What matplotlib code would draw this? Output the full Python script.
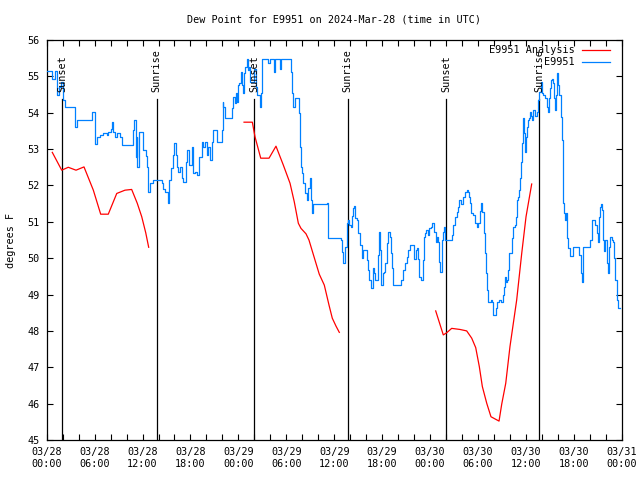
import numpy as np
import matplotlib
matplotlib.use("Agg")
import matplotlib.pyplot as plt
from matplotlib.ticker import MultipleLocator, FixedLocator

# ---- data (hours since 03/28 00:00 UTC, degrees F) ----
obs_hours = [0.08, 0.63, 1.04, 1.33, 1.58, 1.79, 2.08, 2.29, 3.46, 3.54, 3.76, 5.42, 5.63, 5.92, 6.05, 6.34,
             6.67, 7.09, 7.51, 7.71, 8.01, 8.21, 8.34, 8.55, 8.84, 9.18, 9.39, 10.64, 10.84, 10.97, 11.14,
             11.27, 11.34, 11.52, 11.93, 12.10, 12.43, 12.60, 12.72, 12.94, 13.35, 14.19, 14.40, 14.60,
             14.81, 15.06, 15.23, 15.35, 15.56, 15.78, 15.98, 16.15, 16.28, 16.48, 16.69, 16.90, 17.10,
             17.41, 17.61, 17.82, 18.16, 18.36, 18.57, 18.78, 19.07, 19.41, 19.61, 19.82, 20.03, 20.24,
             20.45, 20.66, 20.86, 21.07, 21.29, 21.70, 21.91, 22.04, 22.11, 22.33, 22.95, 23.17, 23.37,
             23.58, 23.70, 23.87, 23.99, 24.12, 24.29, 24.42, 24.54, 24.71, 24.87, 25.04, 25.17, 25.33,
             25.46, 25.79, 25.96, 26.21, 26.37, 26.62, 26.71, 26.83, 26.96, 27.71, 27.75, 27.96, 28.30,
             28.46, 28.59, 29.00, 29.21, 29.34, 30.47, 30.59, 30.68, 30.80, 30.97, 31.09, 31.51, 31.59,
             31.72, 31.81, 31.93, 32.06, 32.34, 32.56, 32.76, 32.97, 33.10, 33.26, 33.38, 35.06, 35.26,
             36.73, 36.81, 36.94, 37.14, 37.35, 37.57, 37.77, 37.89, 38.07, 38.23, 38.35, 38.52, 38.64,
             38.82, 39.02, 39.23, 39.44, 39.57, 39.64, 39.86, 40.07, 40.19, 40.40, 40.61, 40.82, 40.99,
             41.11, 41.32, 41.48, 41.65, 41.77, 41.90, 42.07, 42.24, 42.36, 42.57, 42.77, 42.99, 43.11,
             43.28, 43.40, 44.24, 44.36, 44.58, 44.86, 45.08, 45.28, 45.49, 45.91, 46.03, 46.24, 46.41,
             46.53, 46.66, 46.87, 47.08, 47.28, 47.41, 47.50, 47.71, 47.87, 48.08, 48.21, 48.41, 48.53,
             48.71, 48.83, 48.96, 49.12, 49.25, 49.46, 49.54, 49.66, 49.75, 49.87, 50.09, 50.50, 50.71,
             50.91, 51.09, 51.34, 51.54, 51.66, 51.88, 52.17, 52.38, 52.59, 52.75, 52.88, 53.00, 53.13,
             53.42, 53.63, 53.84, 54.04, 54.26, 54.38, 54.55, 54.76, 54.92, 55.01, 55.10, 55.22, 55.51,
             55.63, 55.72, 55.85, 55.92, 56.14, 56.26, 56.42, 56.64, 56.85, 56.98, 57.10, 57.26, 57.39,
             57.52, 57.68, 57.80, 57.93, 58.10, 58.23, 58.43, 58.64, 58.76, 58.85, 58.98, 59.14, 59.27,
             59.39, 59.48, 59.61, 59.68, 59.80, 59.93, 60.02, 60.11, 60.23, 60.36, 60.52, 60.65, 60.81,
             60.93, 61.14, 61.36, 61.56, 61.68, 61.86, 61.98, 62.18, 62.40, 62.61, 62.73, 62.90, 63.02,
             63.15, 63.31, 63.44, 63.56, 63.69, 63.77, 63.90, 64.06, 64.19, 64.36, 64.49, 64.61, 64.69,
             64.78, 64.90, 64.99, 65.15, 65.31, 65.52, 65.74, 65.94, 66.57, 66.69, 66.87, 66.99, 67.12,
             67.19, 67.82, 68.03, 68.24, 68.45, 68.66, 68.87, 68.99, 69.16, 69.28, 69.41, 69.50, 69.62,
             69.70, 69.82, 69.95, 70.12, 70.25, 70.37, 70.54, 70.75, 70.96, 71.08, 71.21, 71.37, 71.54,
             71.79]
obs_vals = [55.16, 54.92, 55.16, 54.49, 54.70, 54.85, 54.35, 54.17, 54.17, 53.60, 53.80, 53.80, 54.03, 54.03,
            53.13, 53.33, 53.38, 53.43, 53.38, 53.48, 53.55, 53.75, 53.48, 53.33, 53.43, 53.33, 53.11,
            53.11, 53.52, 53.80, 52.79, 53.33, 52.52, 53.48, 53.48, 52.98, 52.80, 52.52, 51.83, 52.06,
            52.15, 52.15, 52.06, 51.90, 51.83, 51.83, 51.51, 52.15, 52.47, 52.85, 53.16, 52.85, 52.52,
            52.38, 52.52, 52.20, 52.10, 52.65, 52.97, 52.56, 53.07, 52.33, 52.38, 52.29, 52.79, 53.20,
            53.07, 53.20, 52.84, 53.07, 52.70, 53.20, 53.52, 53.52, 53.20, 53.20, 53.52, 54.30, 54.17,
            53.85, 53.85, 54.12, 54.44, 54.26, 54.53, 54.30, 54.76, 54.81, 55.13, 54.76, 54.53, 55.10,
            55.27, 55.47, 55.18, 55.27, 54.85, 54.85, 55.20, 54.72, 54.49, 54.49, 54.17, 54.53, 55.47,
            55.47, 55.36, 55.47, 55.47, 55.12, 55.47, 55.47, 55.20, 55.47, 55.47, 55.12, 54.53, 54.17,
            54.17, 54.40, 54.40, 53.98, 53.07, 52.52, 52.35, 52.06, 51.78, 51.60, 51.92, 52.20, 51.60,
            51.23, 51.50, 51.51, 50.55, 50.55, 50.50, 50.18, 49.86, 50.32, 50.96, 51.04, 50.90, 50.87,
            51.15, 51.37, 51.43, 51.10, 51.04, 50.68, 50.35, 50.00, 50.10, 50.22, 50.22, 49.95, 49.67,
            49.40, 49.17, 49.72, 49.58, 49.40, 49.40, 50.10, 50.73, 50.22, 49.26, 49.58, 49.63, 49.86,
            50.41, 50.73, 50.59, 50.13, 49.72, 49.26, 49.26, 49.40, 49.67, 49.86, 50.04, 50.22, 50.36,
            50.36, 49.99, 50.22, 50.27, 49.99, 49.49, 49.40, 49.95, 50.59, 50.68, 50.77, 50.64, 50.82,
            50.87, 50.96, 50.96, 50.73, 50.45, 50.59, 50.45, 49.90, 49.63, 49.63, 50.50, 50.73, 50.87,
            50.50, 50.50, 50.50, 50.64, 50.91, 51.14, 51.28, 51.42, 51.60, 51.50, 51.69, 51.83, 51.87,
            51.83, 51.69, 51.51, 51.23, 51.19, 50.96, 50.87, 50.96, 51.30, 51.51, 51.28, 50.68, 50.13,
            49.58, 49.12, 48.80, 48.80, 48.85, 48.80, 48.58, 48.44, 48.44, 48.62, 48.80, 48.85, 48.80,
            48.80, 48.99, 49.20, 49.49, 49.35, 49.40, 49.67, 50.13, 50.13, 50.55, 50.87, 50.91, 51.14,
            51.60, 51.69, 51.87, 52.20, 52.65, 53.16, 53.62, 53.85, 53.43, 52.93, 53.33, 53.62, 53.80,
            53.85, 54.03, 53.90, 53.80, 54.08, 53.90, 54.03, 54.35, 54.58, 54.85, 54.53, 54.49, 54.40,
            54.17, 54.03, 54.40, 54.67, 54.90, 54.94, 54.81, 54.40, 54.08, 54.49, 55.08, 54.76, 54.49,
            53.89, 53.25, 52.52, 51.51, 51.23, 51.05, 51.23, 50.55, 50.27, 50.06, 50.06, 50.32, 50.32,
            50.10, 49.58, 49.35, 50.10, 50.32, 50.32, 50.50, 51.05, 51.05, 50.91, 50.68, 50.45, 51.14,
            51.41, 51.50, 51.32, 50.68, 50.50, 50.20, 50.50, 49.86, 49.58, 50.32, 50.59, 50.50, 50.45,
            50.00, 49.40, 48.85, 48.62, 48.62]

ana_hours_1 = [0.70, 1.88, 2.70, 3.67, 4.67, 5.84, 6.76, 7.71, 8.77, 9.80, 10.64, 11.34, 11.90, 12.40, 12.77]
ana_vals_1 = [52.91, 52.42, 52.50, 52.42, 52.51, 51.87, 51.21, 51.21, 51.78, 51.87, 51.89, 51.51, 51.14, 50.70, 50.30]
ana_hours_2 = [24.71, 25.75, 26.08, 26.80, 27.84, 28.71, 29.63, 30.47, 31.00, 31.51, 31.84, 32.47, 32.84,
               33.47, 34.13, 34.76, 35.35, 35.76, 36.23, 36.64]
ana_vals_2 = [53.74, 53.74, 53.34, 52.75, 52.75, 53.08, 52.56, 52.06, 51.55, 50.96, 50.82, 50.67, 50.50,
              50.04, 49.56, 49.26, 48.71, 48.35, 48.13, 47.96]
ana_hours_3 = [48.71, 49.66, 50.09, 50.71, 51.75, 52.59, 53.22, 53.72, 54.17, 54.55, 55.10, 55.63, 56.64,
               56.98, 57.48, 58.01, 58.85, 59.48, 60.02, 60.73]
ana_vals_3 = [48.55, 47.89, 47.95, 48.07, 48.04, 48.00, 47.80, 47.54, 47.02, 46.47, 46.01, 45.64, 45.52,
              45.99, 46.56, 47.57, 48.85, 50.13, 51.14, 52.04]

sun_hours = [1.92, 13.75, 25.96, 37.67, 50.0, 61.65]
sun_labels = ["Sunset", "Sunrise", "Sunset", "Sunrise", "Sunset", "Sunrise"]

tick_hours = [0, 6, 12, 18, 24, 30, 36, 42, 48, 54, 60, 66, 72]
tick_labels = ["03/28\n00:00", "03/28\n06:00", "03/28\n12:00", "03/28\n18:00",
               "03/29\n00:00", "03/29\n06:00", "03/29\n12:00", "03/29\n18:00",
               "03/30\n00:00", "03/30\n06:00", "03/30\n12:00", "03/30\n18:00",
               "03/31\n00:00"]
y_ticks = [45, 46, 47, 48, 49, 50, 51, 52, 53, 54, 55, 56]

RED = "#ff0000"
BLUE = "#0080ff"
FONT = "DejaVu Sans Mono"
FS = 7.3

plt.rcParams['font.family'] = [FONT]
fig = plt.figure(figsize=(6.4, 4.8), dpi=100)
ax = fig.add_axes([46.7 / 640, 40 / 480, 575 / 640, 400 / 480])

ax.plot(obs_hours, obs_vals, color=BLUE, lw=0.9, drawstyle='steps-post', zorder=3)
for hs, vs in [(ana_hours_1, ana_vals_1), (ana_hours_2, ana_vals_2), (ana_hours_3, ana_vals_3)]:
    ax.plot(hs, vs, color=RED, lw=0.9, zorder=3)

for h, lab in zip(sun_hours, sun_labels):
    ax.plot([h, h], [45, 54.38], color='black', lw=0.9, zorder=2)
    ax.text(h, 54.57, lab, rotation=90, ha='center', va='bottom', fontsize=FS, zorder=4)

ax.set_xlim(0, 72)
ax.set_ylim(45, 56)
ax.xaxis.set_major_locator(FixedLocator(tick_hours))
ax.set_xticklabels(tick_labels)
ax.xaxis.set_minor_locator(MultipleLocator(2))
ax.set_yticks(y_ticks)
ax.tick_params(axis='both', which='both', direction='in', length=4, width=0.8,
               top=True, right=True, labelsize=FS, pad=5)
for s in ax.spines.values():
    s.set_linewidth(0.9)

ax.set_ylabel("degrees F", fontsize=FS, labelpad=8)
fig.text(334 / 640, 1 - 20 / 480, "Dew Point for E9951 on 2024-Mar-28 (time in UTC)",
         ha='center', va='center', fontsize=FS)

# legend (gnuplot style: text then line sample)
for i, (lab, col) in enumerate([("E9951 Analysis", RED), ("E9951", BLUE)]):
    yy = 0.975 - i * 0.03
    ax.text(0.918, yy, lab, transform=ax.transAxes, ha='right', va='center', fontsize=FS, zorder=5)
    ax.plot([0.931, 0.98], [yy, yy], transform=ax.transAxes, color=col, lw=0.9, clip_on=False, zorder=5)

fig.savefig("out.png", dpi=100)
